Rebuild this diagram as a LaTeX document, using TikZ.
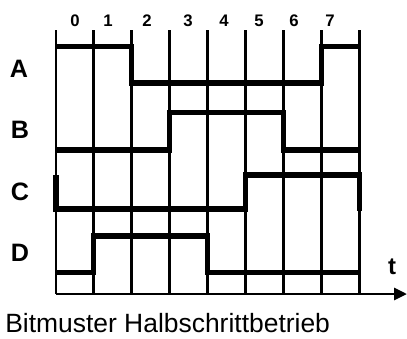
\documentclass[tikz,border=0pt]{standalone}
\usepackage{fontspec}
\setmainfont{Liberation Sans}
\usetikzlibrary{arrows.meta}

\begin{document}
\begin{tikzpicture}[
      x=0.025cm, y=-0.025cm,
      grid/.style={line width=2.1pt, line cap=butt},
      signal/.style={line width=3.6pt, line join=miter, line cap=butt},
      slot/.style={font=\fontsize{11.9}{13}\selectfont\bfseries, inner sep=0pt},
      wave/.style={font=\fontsize{17.9}{20}\selectfont\bfseries, inner sep=0pt},
      axis/.style={line width=2.1pt, -{Triangle[length=9.2pt, width=8.5pt]}}
    ]
    \useasboundingbox (0,0) rectangle (407,338);
    % grid of the eight steps
    \foreach \i in {0,...,8}
      \coordinate (c\i) at ({56+37.9*\i},0);
    \foreach \i in {0,...,8}
      \draw[grid] (c\i |- 0,30) -- (c\i |- 0,294);
    \coordinate (o) at (56,294);
    \coordinate (tip) at (407,294);
    \draw[axis] (o) -- (tip);
    % step numbers
    \foreach \n/\x in {0/75,1/108,2/147,3/188,4/224,5/259,6/294,7/330}
      \node[slot] (n\n) at (\x,21) {\n};
    % signal names
    \node[wave] (lA) at (19,69) {A};
    \node[wave] (lB) at (20,130) {B};
    \node[wave] (lC) at (20,192) {C};
    \node[wave] (lD) at (20,252.5) {D};
    \node[wave, font=\fontsize{17}{19}\selectfont\bfseries] (lt) at (392,266.5) {t};
    % waveforms
    \draw[signal] (c0 |- 0,46.7) -- (c2 |- 0,46.7) -- (c2 |- 0,83)
      -- (c7 |- 0,83) -- (c7 |- 0,46.7) -- (c8 |- 0,46.7);
    \draw[signal] (c0 |- 0,150) -- (c3 |- 0,150) -- (c3 |- 0,112.7)
      -- (c6 |- 0,112.7) -- (c6 |- 0,150) -- (c8 |- 0,150);
    \draw[signal] (c0 |- 0,175) -- (c0 |- 0,209) -- (c5 |- 0,209)
      -- (c5 |- 0,175) -- (c8 |- 0,175) -- (c8 |- 0,211);
    \draw[signal] (c0 |- 0,272.7) -- (c1 |- 0,272.7) -- (c1 |- 0,236)
      -- (c4 |- 0,236) -- (c4 |- 0,272.7) -- (c8 |- 0,272.7);
    % caption
    \node[font=\fontsize{18.8}{21}\selectfont, anchor=west, inner sep=0pt]
      (cap) at (5,323) {Bitmuster Halbschrittbetrieb};
  \end{tikzpicture}
\end{document}
